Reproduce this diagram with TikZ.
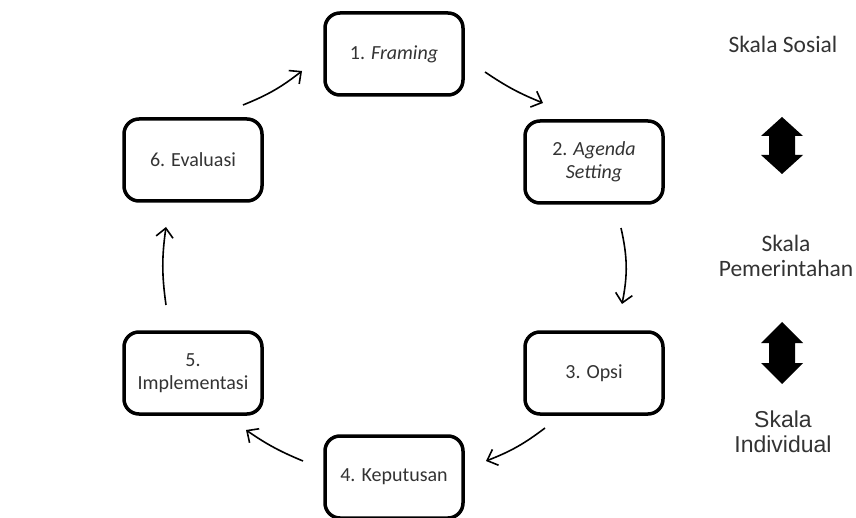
\documentclass[tikz,border=0pt]{standalone}
\usepackage{fontspec}
\setmainfont{Carlito}
\newfontfamily\arialfont{Liberation Sans}
\usetikzlibrary{arrows.meta,shapes}

\begin{document}
\begin{tikzpicture}[x=1pt,y=-1pt]
                \tikzstyle{stage}=[draw=black,line width=3.5pt,rounded corners=15pt,minimum width=138pt,minimum height=82pt,align=center,text=black!80,font=\fontsize{20pt}{23pt}\selectfont]
                \tikzstyle{flow}=[line width=1.6pt,-{Straight Barb[length=9pt,width=17pt,line width=1.6pt]}]
                \tikzstyle{scale label}=[align=center,text=black!80,font=\fontsize{23.5pt}{25pt}\selectfont]
                \useasboundingbox (0,0) rectangle (856,518);

                \node[stage] (framing) at (394,54) {1. \textit{Framing}};
                \node[stage] (agenda) at (594,162) {2. \textit{Agenda}\\\textit{Setting}};
                \node[stage] (opsi) at (594,373) {3. Opsi};
                \node[stage] (keputusan) at (394,477) {4. Keputusan};
                \node[stage] (implementasi) at (193,373) {5.\\Implementasi};
                \node[stage] (evaluasi) at (193,160) {6. Evaluasi};

                \coordinate (A) at (243,105);
                \coordinate (B) at (302,71);
                \coordinate (C) at (485,72);
                \coordinate (D) at (543,103);
                \coordinate (E) at (621,228);
                \coordinate (F) at (622,304);
                \coordinate (G) at (545,428);
                \coordinate (H) at (486,461);
                \coordinate (I) at (303,461);
                \coordinate (J) at (246,430);
                \coordinate (K) at (166,305);
                \coordinate (L) at (166,227);

                \draw[flow] (A) to [bend right=8] (B);
                \draw[flow] (C) to [bend right=6] (D);
                \draw[flow] (E) to [bend left=12] (F);
                \draw[flow] (G) to [bend left=8] (H);
                \draw[flow] (I) to [bend left=6] (J);
                \draw[flow] (K) to [bend left=8] (L);

                \node[scale label] (sosial) at (783,44) {Skala Sosial};
                \node[scale label] (pemerintahan) at (786,256) {Skala\\Pemerintahan};
                \node[scale label,font=\arialfont\fontsize{23pt}{25pt}\selectfont] (individual) at (783,432) {Skala\\Individual};

                % double arrows between scales
                \fill[black] (782,117) -- (803,136) -- (795,136) -- (795,155) -- (803,155) -- (782,174)
                    -- (761,155) -- (769,155) -- (769,136) -- (761,136) -- cycle;
                \fill[black] (782,322) -- (803,343) -- (795,343) -- (795,363) -- (803,363) -- (782,384)
                    -- (761,363) -- (769,363) -- (769,343) -- (761,343) -- cycle;

                \end{tikzpicture}
\end{document}
